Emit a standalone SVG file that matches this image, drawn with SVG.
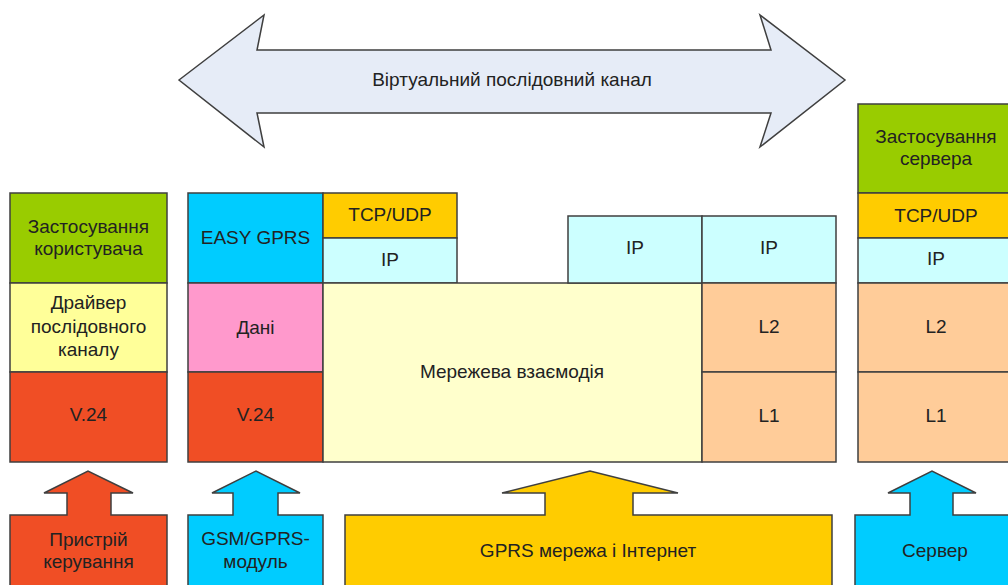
<svg xmlns="http://www.w3.org/2000/svg" width="1008" height="585" viewBox="0 0 1008 585">
<style>
.b{stroke:#3f3f3f;stroke-width:1.5}
.t{font-family:"Liberation Sans",Arial,sans-serif;font-size:19px;fill:#222;text-anchor:middle}
.green{fill:#99CC00}.ly{fill:#FFFF99}.red{fill:#F04E25}.cyan{fill:#00CCFF}.pink{fill:#FF99CC}
.or{fill:#FFCC00}.lc{fill:#CCFFFF}.pale{fill:#FFFFCC}.peach{fill:#FFCC99}
</style>
<rect width="1008" height="585" fill="#fff"/>
<g id="virtual-channel">
<path class="b" fill="#E6ECF7" d="M179,80 L264,15 L257,50 L771,50 L760,15 L845,80 L760,147 L771,113 L257,113 L264,147 Z"/>
<text class="t" x="512" y="86">Віртуальний послідовний канал</text>
</g>
<g id="user-stack">
<rect class="b green" x="10" y="193" width="157" height="90"/>
<text class="t" x="88.5" y="233">Застосування</text>
<text class="t" x="88.5" y="255">користувача</text>
<rect class="b ly" x="10" y="283" width="157" height="89"/>
<text class="t" x="88.5" y="309">Драйвер</text>
<text class="t" x="88.5" y="333">послідовного</text>
<text class="t" x="88.5" y="356">каналу</text>
<rect class="b red" x="10" y="372" width="157" height="90"/>
<text class="t" x="88.5" y="421">V.24</text>
</g>
<g id="module-stack">
<rect class="b cyan" x="188" y="193" width="135" height="90"/>
<text class="t" x="255.5" y="244">EASY GPRS</text>
<rect class="b pink" x="188" y="283" width="135" height="89"/>
<text class="t" x="255.5" y="334">Дані</text>
<rect class="b red" x="188" y="372" width="135" height="90"/>
<text class="t" x="255.5" y="421">V.24</text>
<rect class="b or" x="323" y="193" width="134" height="45"/>
<text class="t" x="390" y="221">TCP/UDP</text>
<rect class="b lc" x="323" y="238" width="134" height="45"/>
<text class="t" x="390" y="266">IP</text>
</g>
<g id="network">
<rect class="b pale" x="323" y="283" width="379" height="179"/>
<text class="t" x="512" y="378">Мережева взаємодія</text>
<rect class="b lc" x="568" y="216" width="134" height="67"/>
<text class="t" x="635" y="254">IP</text>
</g>
<g id="gateway-stack">
<rect class="b lc" x="702" y="216" width="134" height="67"/>
<text class="t" x="769" y="254">IP</text>
<rect class="b peach" x="702" y="283" width="134" height="89"/>
<text class="t" x="769" y="333">L2</text>
<rect class="b peach" x="702" y="372" width="134" height="90"/>
<text class="t" x="769" y="422">L1</text>
</g>
<g id="server-stack">
<rect class="b green" x="858" y="104" width="157" height="89"/>
<text class="t" x="936" y="143">Застосування</text>
<text class="t" x="936" y="165">сервера</text>
<rect class="b or" x="858" y="193" width="157" height="45"/>
<text class="t" x="936" y="222">TCP/UDP</text>
<rect class="b lc" x="858" y="238" width="157" height="45"/>
<text class="t" x="936" y="265">IP</text>
<rect class="b peach" x="858" y="283" width="157" height="89"/>
<text class="t" x="936" y="333">L2</text>
<rect class="b peach" x="858" y="372" width="157" height="90"/>
<text class="t" x="936" y="422">L1</text>
</g>
<g id="control-device">
<path class="b red" d="M10,590 L10,515 L67,515 L67,493 L44,493 L88,471 L133,493 L111,493 L111,515 L167,515 L167,590"/>
<text class="t" x="88.5" y="546">Пристрій</text>
<text class="t" x="88.5" y="568">керування</text>
</g>
<g id="gsm-module">
<path class="b cyan" d="M188,590 L188,515 L233,515 L233,493 L212,493 L256,471 L300,493 L278,493 L278,515 L323,515 L323,590"/>
<text class="t" x="255.5" y="545">GSM/GPRS-</text>
<text class="t" x="255.5" y="568">модуль</text>
</g>
<g id="gprs-internet">
<path class="b or" d="M345,590 L345,515 L545,515 L545,493 L502,493 L590,471 L678,493 L633,493 L633,515 L832,515 L832,590"/>
<text class="t" x="588" y="557">GPRS мережа і Інтернет</text>
</g>
<g id="server">
<path class="b cyan" d="M855,590 L855,515 L910,515 L910,493 L888,493 L932,471 L976,493 L953,493 L953,515 L1015,515 L1015,590"/>
<text class="t" x="935" y="557">Сервер</text>
</g>
</svg>
